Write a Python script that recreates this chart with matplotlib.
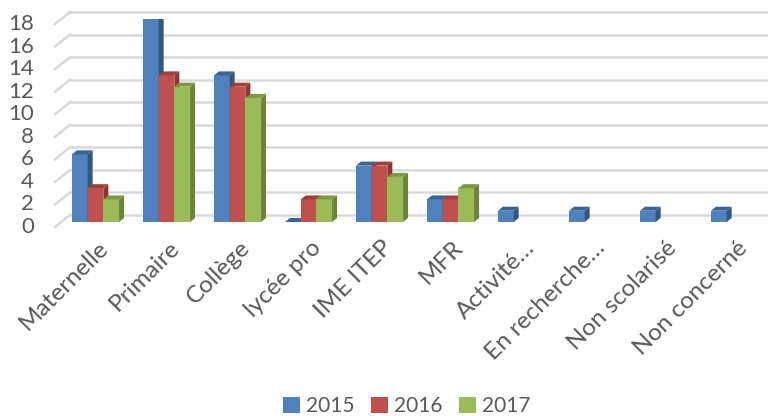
import matplotlib
matplotlib.use("Agg")
import matplotlib.pyplot as plt
from matplotlib.patches import Polygon, Patch

plt.rcParams['font.family'] = ['Lato', 'DejaVu Sans']

categories = ["Maternelle", "Primaire", "Collège", "lycée pro", "IME ITEP", "MFR",
              "Activité…", "En recherche…", "Non scolarisé", "Non concerné"]
series_names = ["2015", "2016", "2017"]
v2015 = [6, 18, 13, 0, 5, 2, 1, 1, 1, 1]
v2016 = [3, 13, 12, 2, 5, 2, 0, 0, 0, 0]
v2017 = [2, 12, 11, 2, 4, 3, 0, 0, 0, 0]
yticks = [0, 2, 4, 6, 8, 10, 12, 14, 16, 18]

series = [v2015, v2016, v2017]
front = ["#4F81BD", "#C0504D", "#9BBB59"]
side = ["#34577f", "#8c3633", "#6a8537"]
top = ["#3b6496", "#a13f3c", "#7c9a42"]
present = [[True] * 10, [True] * 6 + [False] * 4, [True] * 6 + [False] * 4]

W, H = 768, 416
fig = plt.figure(figsize=(W / 100, H / 100), dpi=100)
ax_left, ax_right = 60, 770
ax_bot, ax_top = 416 - 222, 416 - 19
ax = fig.add_axes([ax_left / W, ax_bot / H, (ax_right - ax_left) / W, (ax_top - ax_bot) / H])
ax.set_xlim(-0.5, 9.5)
ax.set_ylim(0, 18)
for s in ax.spines.values():
    s.set_visible(False)

pxx = (ax_right - ax_left) / 10.0   # px per category
pxy = (ax_top - ax_bot) / 18.0      # px per unit

# back wall gridlines + floor diagonals
back_dx, back_dy = 10 / pxx, 7 / pxy
front_dx, front_dy = -5 / pxx, -5 / pxy
grid_c = "#d9d9d9"
for v in yticks:
    ax.plot([-0.5 + back_dx, 9.5 + 0.1], [v + back_dy, v + back_dy], color=grid_c,
            lw=1.8, zorder=1, clip_on=False, solid_capstyle='butt')
    ax.plot([-0.5 + front_dx, -0.5 + back_dx], [v + front_dy, v + back_dy], color=grid_c,
            lw=1.8, zorder=1, clip_on=False)
    ax.text(-0.5 + front_dx - 21 / pxx, v + front_dy, str(v), ha='right', va='center',
            fontsize=16, color="#595959")
ax.set_xticks([])
ax.set_yticks([])

# bars
bw = 15.7 / pxx
ddx, ddy = 5 / pxx, 4 / pxy
for si, vals in enumerate(series):
    off = (si - 1) * bw
    for ci, v in enumerate(vals):
        if not present[si][ci]:
            continue
        x0 = ci + off - bw / 2
        x1 = x0 + bw
        if v > 0:
            ax.bar(ci + off, v, bw, color=front[si], zorder=3 + si, linewidth=0)
            ax.add_patch(Polygon([(x1, 0), (x1, v), (x1 + ddx, v + ddy), (x1 + ddx, ddy)],
                                 closed=True, facecolor=side[si], edgecolor='none', zorder=3 + si))
        ax.add_patch(Polygon([(x0, v), (x1, v), (x1 + ddx, v + ddy), (x0 + ddx, v + ddy)],
                             closed=True, facecolor=top[si], edgecolor='none', zorder=3 + si))

# category labels
for ci, c in enumerate(categories):
    ax.text(ci + 2 / pxx, -15 / pxy, c, rotation=45, ha='right', va='top', rotation_mode='anchor',
            fontsize=17.5, color="#595959")

handles = [Patch(facecolor=front[i], edgecolor='none') for i in range(3)]
leg = fig.legend(handles, series_names, loc='lower center', bbox_to_anchor=(407 / W, -0.045),
                 ncol=3, frameon=False, fontsize=15, handlelength=0.8, handleheight=0.8,
                 handletextpad=0.3, columnspacing=0.8)
for t in leg.get_texts():
    t.set_color("#595959")

fig.savefig("out.png", dpi=100)
